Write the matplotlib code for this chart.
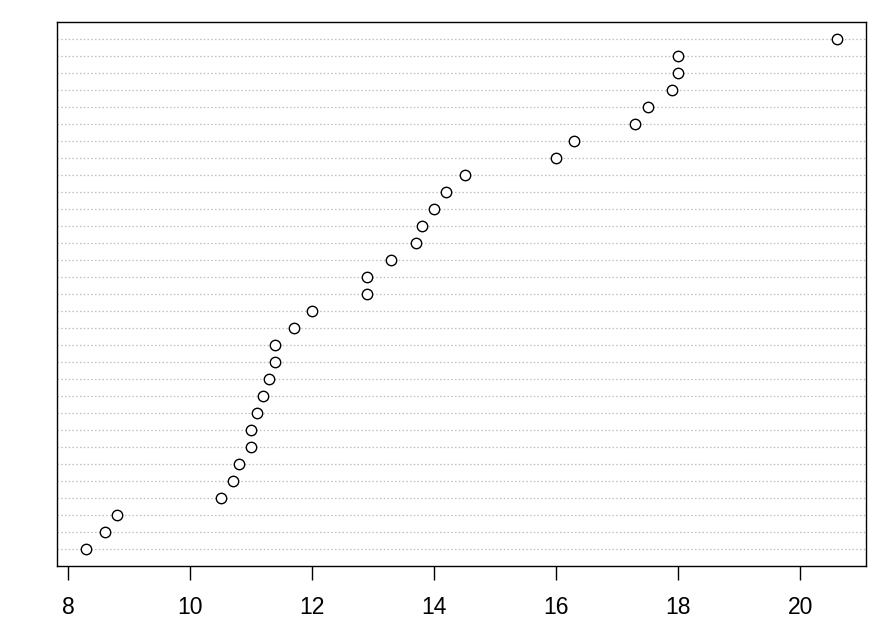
import matplotlib.pyplot as plt
import numpy as np

# values read bottom to top
vals = [8.3, 8.6, 8.8, 10.5, 10.7, 10.8, 11.0, 11.0, 11.1, 11.2,
        11.3, 11.4, 11.4, 11.7, 12.0, 12.9, 12.9, 13.3, 13.7, 13.8,
        14.0, 14.2, 14.5, 16.0, 16.3, 17.3, 17.5, 17.9, 18.0, 18.0, 20.6]
xticks = [8, 10, 12, 14, 16, 18, 20]

rows = np.arange(1, len(vals) + 1)

fig = plt.figure(figsize=(8.95, 6.44), dpi=100)
ax = fig.add_axes([57/895, 78/644, 809/895, 544/644])

for r in rows:
    ax.axhline(r, color="#bebebe", lw=0.9, ls=(0, (1.2, 1.8)), zorder=1)
ax.plot(vals, rows, ls="none", marker="o", mfc="white", mec="black",
        ms=7.5, mew=1.0, zorder=3)

ax.set_xlim(7.82, 21.08)
ax.set_ylim(0, 32)
ax.set_yticks([])
ax.set_xticks(xticks)
ax.set_xticklabels([str(t) for t in xticks], family="Liberation Sans", fontsize=16.5)
ax.tick_params(axis="x", length=10, width=1, pad=11.5)
for s in ax.spines.values():
    s.set_linewidth(1)

fig.savefig("out.png", dpi=100)
